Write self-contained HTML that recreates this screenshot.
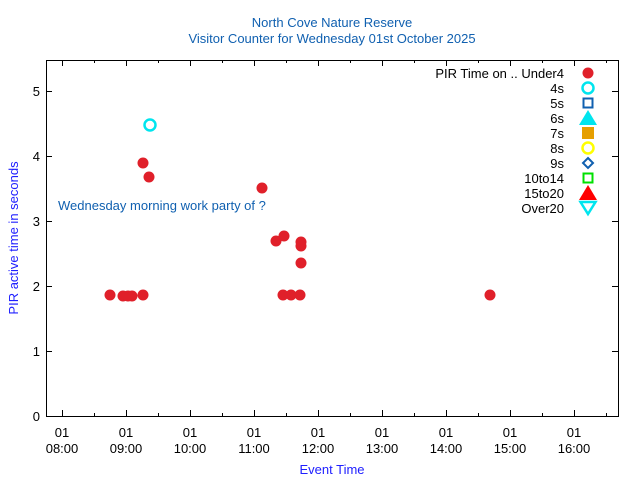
<!DOCTYPE html>
<html><head><meta charset="utf-8"><style>
body{margin:0;background:#fff;}
svg{display:block;font-family:"Liberation Sans",sans-serif;}
</style></head><body>
<svg width="640" height="480" xmlns="http://www.w3.org/2000/svg">
<rect width="640" height="480" fill="#fff"/>
<text x="332" y="27" font-size="13" fill="#1060b0" text-anchor="middle">North Cove Nature Reserve</text>
<text x="332" y="43" font-size="13" fill="#1060b0" text-anchor="middle">Visitor Counter for Wednesday 01st October 2025</text>
<rect x="46.5" y="60.5" width="572" height="356" fill="none" stroke="#000" stroke-width="1"/>
<g stroke="#000" stroke-width="1">
<path d="M46 416.5h6M46 351.5h6M46 286.5h6M46 221.5h6M46 156.5h6M46 91.5h6
M618 416.5h-6M618 351.5h-6M618 286.5h-6M618 221.5h-6M618 156.5h-6M618 91.5h-6"/>
<path d="M62.5 416v-6M126.5 416v-6M190.5 416v-6M254.5 416v-6M318.5 416v-6M382.5 416v-6M446.5 416v-6M510.5 416v-6M574.5 416v-6
M94.5 416v-3M158.5 416v-3M222.5 416v-3M286.5 416v-3M350.5 416v-3M414.5 416v-3M478.5 416v-3M542.5 416v-3M606.5 416v-3
M62.5 60v6M126.5 60v6M190.5 60v6M254.5 60v6M318.5 60v6M382.5 60v6M446.5 60v6M510.5 60v6M574.5 60v6
M94.5 60v3M158.5 60v3M222.5 60v3M286.5 60v3M350.5 60v3M414.5 60v3M478.5 60v3M542.5 60v3M606.5 60v3"/>
</g>
<g font-size="13" fill="#000" text-anchor="end">
<text x="40" y="421">0</text><text x="40" y="356">1</text><text x="40" y="291">2</text>
<text x="40" y="226">3</text><text x="40" y="161">4</text><text x="40" y="96">5</text>
</g>
<g font-size="13" fill="#000" text-anchor="middle">
<text x="62" y="437">01</text><text x="62" y="453">08:00</text>
<text x="126" y="437">01</text><text x="126" y="453">09:00</text>
<text x="190" y="437">01</text><text x="190" y="453">10:00</text>
<text x="254" y="437">01</text><text x="254" y="453">11:00</text>
<text x="318" y="437">01</text><text x="318" y="453">12:00</text>
<text x="382" y="437">01</text><text x="382" y="453">13:00</text>
<text x="446" y="437">01</text><text x="446" y="453">14:00</text>
<text x="510" y="437">01</text><text x="510" y="453">15:00</text>
<text x="574" y="437">01</text><text x="574" y="453">16:00</text>
</g>
<text x="332" y="474" font-size="13" fill="#2020ff" text-anchor="middle">Event Time</text>
<text transform="translate(18,238) rotate(-90)" font-size="13" fill="#2020ff" text-anchor="middle">PIR active time in seconds</text>
<text x="58" y="210" font-size="13" fill="#1060b0">Wednesday morning work party of ?</text>
<g fill="#e0202a">
<circle cx="110" cy="295" r="5.5"/><circle cx="123" cy="296" r="5.5"/><circle cx="128" cy="296" r="5.5"/>
<circle cx="132" cy="296" r="5.5"/><circle cx="143" cy="295" r="5.5"/><circle cx="143" cy="163" r="5.5"/>
<circle cx="149" cy="177" r="5.5"/><circle cx="262" cy="188" r="5.5"/><circle cx="276" cy="241" r="5.5"/>
<circle cx="284" cy="236" r="5.5"/><circle cx="283" cy="295" r="5.5"/><circle cx="291" cy="295" r="5.5"/>
<circle cx="300" cy="295" r="5.5"/><circle cx="301" cy="242" r="5.5"/><circle cx="301" cy="246" r="5.5"/>
<circle cx="301" cy="263" r="5.5"/><circle cx="490" cy="295" r="5.5"/>
</g>
<circle cx="150" cy="125" r="5.5" fill="none" stroke="#00e5ee" stroke-width="2.5"/>
<g font-size="13" fill="#000" text-anchor="end">
<text x="564" y="78">PIR Time on .. Under4</text>
<text x="564" y="93">4s</text><text x="564" y="108">5s</text><text x="564" y="123">6s</text>
<text x="564" y="138">7s</text><text x="564" y="153">8s</text><text x="564" y="168">9s</text>
<text x="564" y="183">10to14</text><text x="564" y="198">15to20</text><text x="564" y="213">Over20</text>
</g>
<circle cx="588" cy="73" r="5.5" fill="#e0202a"/>
<circle cx="588" cy="88" r="5.5" fill="none" stroke="#00e5ee" stroke-width="2.5"/>
<rect x="583.5" y="98.5" width="9" height="9" fill="none" stroke="#1060b0" stroke-width="2"/>
<polygon points="588,110 597,125 579,125" fill="#00e5ee"/>
<rect x="582" y="127" width="12" height="12" fill="#e69f00"/>
<circle cx="588" cy="148" r="5.5" fill="none" stroke="#ffff00" stroke-width="2.5"/>
<polygon points="588,158 593,163 588,168 583,163" fill="none" stroke="#1060b0" stroke-width="2"/>
<rect x="583.5" y="173.5" width="9" height="9" fill="none" stroke="#00e000" stroke-width="2"/>
<polygon points="588,185 597,200 579,200" fill="#ff0000"/>
<polygon points="580.5,202 595.5,202 588,214" fill="none" stroke="#00e5ee" stroke-width="2.5"/>
</svg>
</body></html>
